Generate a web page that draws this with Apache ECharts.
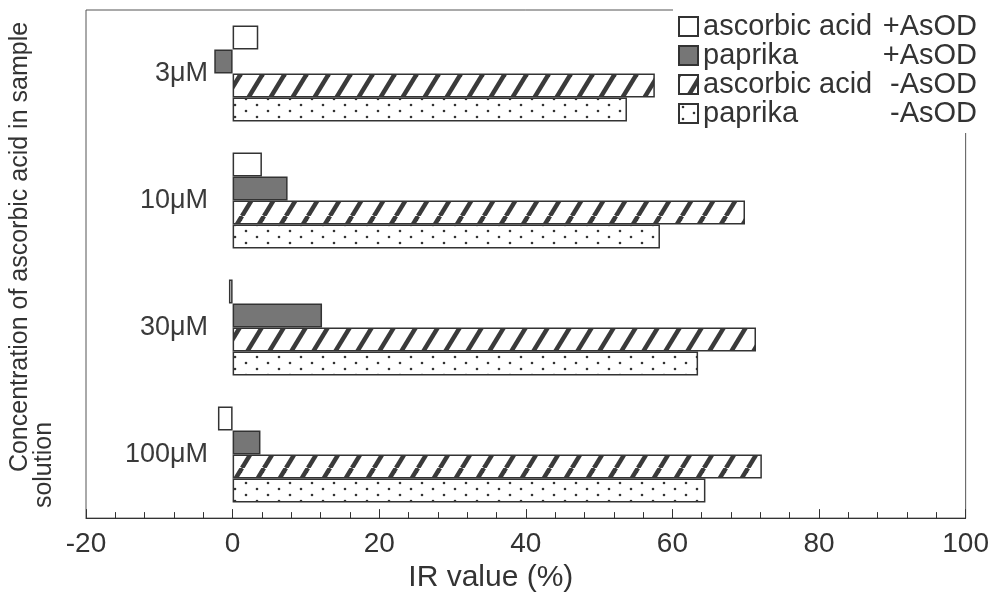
<!DOCTYPE html>
<html>
<head>
<meta charset="utf-8">
<script src="https://cdn.jsdelivr.net/npm/echarts@6/dist/echarts.min.js"></script>
<style>
  html, body { margin: 0; padding: 0; background: #fff; }
  #main { width: 992px; height: 598px; }
</style>
</head>
<body>
<div id="main"></div>
<script>
// data (IR value, %)
var categories = ['3μM', '10μM', '30μM', '100μM'];
var seriesNames = ['ascorbic acid +AsOD', 'paprika +AsOD', 'ascorbic acid -AsOD', 'paprika -AsOD'];
var ascorbicPlus = [3.5, 4.0, -0.5, -2.0];
var paprikaPlus = [-2.5, 7.5, 12.2, 3.8];
var ascorbicMinus = [57.6, 69.9, 71.4, 72.2];
var paprikaMinus = [53.8, 58.3, 63.5, 64.5];
var xTicks = [-20, 0, 20, 40, 60, 80, 100];

var FONT = 'Liberation Sans, Arial, sans-serif';
var TXT = '#333';

// hatch "///" pattern
function hatchPattern() {
    var c = document.createElement('canvas');
    c.width = 22; c.height = 36;
    var g = c.getContext('2d');
    g.fillStyle = '#fff';
    g.fillRect(0, 0, 22, 36);
    g.strokeStyle = '#3a3a3a';
    g.lineWidth = 4.5;
    [-22, 0, 22].forEach(function (o) {
        g.beginPath();
        g.moveTo(o, 36);
        g.lineTo(o + 22, 0);
        g.stroke();
    });
    return c;
}

// sparse dots pattern
function dotPattern() {
    var c = document.createElement('canvas');
    c.width = 22; c.height = 12;
    var g = c.getContext('2d');
    g.fillStyle = '#fff';
    g.fillRect(0, 0, 22, 12);
    g.fillStyle = '#333';
    g.beginPath(); g.arc(4, 3, 1.3, 0, Math.PI * 2); g.fill();
    g.beginPath(); g.arc(15, 9, 1.3, 0, Math.PI * 2); g.fill();
    return c;
}

var fills = [
    '#ffffff',
    '#767676',
    {image: hatchPattern(), repeat: 'repeat'},
    {image: dotPattern(), repeat: 'repeat'}
];
var values = [ascorbicPlus, paprikaPlus, ascorbicMinus, paprikaMinus];

var myChart = echarts.init(document.getElementById('main'));

var option = {
    animation: false,
    backgroundColor: '#fff',
    grid: {
        left: 86,
        right: 26,
        top: 10,
        bottom: 76,
        show: true,
        borderColor: '#555',
        borderWidth: 1
    },
    legend: {
        orient: 'vertical',
        right: 10,
        top: 7,
        itemWidth: 19,
        itemHeight: 19,
        itemGap: 0,
        padding: [5, 5, 5, 5],
        backgroundColor: '#fff',
        icon: 'rect',
        data: seriesNames,
        formatter: function (name) {
            var i = name.lastIndexOf(' ');
            return '{n|' + name.slice(0, i) + '}{s|' + name.slice(i + 1) + '}';
        },
        textStyle: {
            color: TXT,
            fontFamily: FONT,
            fontSize: 29,
            lineHeight: 27.5,
            rich: {
                n: {fontFamily: FONT, fontSize: 29, color: TXT, width: 180, align: 'left', lineHeight: 27.5},
                s: {fontFamily: FONT, fontSize: 29, color: TXT, width: 94, align: 'right', lineHeight: 27.5}
            }
        }
    },
    xAxis: {
        type: 'value',
        min: xTicks[0],
        max: xTicks[xTicks.length - 1],
        interval: 20,
        name: 'IR value (%)',
        nameLocation: 'middle',
        nameGap: 40,
        nameTextStyle: {
            color: TXT,
            fontFamily: FONT,
            fontSize: 30,
            padding: [0, 70, 0, 0]
        },
        axisLine: {show: true, lineStyle: {color: '#333', width: 1}},
        axisTick: {show: true, inside: true, length: 9, lineStyle: {color: '#333'}},
        minorTick: {show: true, splitNumber: 5, length: 6, lineStyle: {color: '#333'}},
        splitLine: {show: false},
        axisLabel: {
            color: TXT,
            fontFamily: FONT,
            fontSize: 28,
            margin: 12
        }
    },
    yAxis: {
        type: 'category',
        data: categories,
        inverse: true,
        axisLine: {show: false, onZero: false},
        axisTick: {show: false},
        axisLabel: {
            inside: true,
            margin: 122,
            align: 'right',
            color: '#3a3a3a',
            fontFamily: FONT,
            fontSize: 27,
            padding: [10, 0, 0, 0]
        }
    },
    graphic: [
        {
            type: 'text',
            x: 20,
            y: 247,
            rotation: Math.PI / 2,
            style: {
                text: 'Concentration of ascorbic acid in sample',
                fill: TXT,
                font: '25px ' + FONT,
                align: 'center',
                verticalAlign: 'middle'
            }
        },
        {
            type: 'text',
            x: 44,
            y: 465,
            rotation: Math.PI / 2,
            style: {
                text: 'solution',
                fill: TXT,
                font: '25px ' + FONT,
                align: 'center',
                verticalAlign: 'middle'
            }
        }
    ],
    series: seriesNames.map(function (name, i) {
        return {
            name: name,
            type: 'bar',
            data: values[i],
            barWidth: 24,
            barGap: '0%',
            itemStyle: {
                color: fills[i],
                borderColor: '#333',
                borderWidth: 1.5
            }
        };
    })
};

myChart.setOption(option);
</script>
</body>
</html>
